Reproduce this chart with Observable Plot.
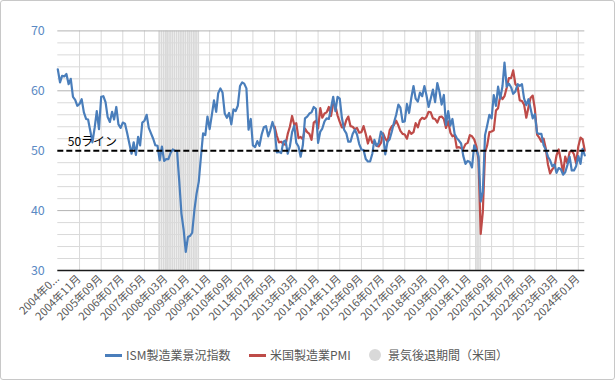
<!DOCTYPE html>
<html><head><meta charset="utf-8">
<script src="https://cdn.jsdelivr.net/npm/d3@7"></script>
<script src="https://cdn.jsdelivr.net/npm/@observablehq/plot@0.6"></script>
<style>
html,body{margin:0;padding:0;background:#fff;}
#frame{position:relative;width:613px;height:378px;border:1px solid #c8c8c8;border-radius:3px;overflow:hidden;font-family:"Noto Sans CJK JP","Noto Sans",sans-serif;background:#fff;}
#chart{position:absolute;left:0;top:0;}
.lg{position:absolute;font-size:12px;color:#595959;white-space:nowrap;line-height:14px;}
.ln{position:absolute;height:3px;}
.dot{position:absolute;width:12px;height:12px;border-radius:50%;background:#d9d9d9;}
</style></head>
<body>
<div id="frame">
  <div id="chart"></div>
  <div class="ln" style="left:104px;top:353px;width:17px;background:#4a7ebb;"></div>
  <div class="lg" style="left:125px;top:347px;">ISM製造業景況指数</div>
  <div class="ln" style="left:248px;top:353px;width:17px;background:#be4b48;"></div>
  <div class="lg" style="left:269px;top:347px;">米国製造業PMI</div>
  <div class="dot" style="left:368px;top:348px;"></div>
  <div class="lg" style="left:387px;top:347px;">景気後退期間（米国）</div>
</div>
<script>
// ISM製造業景況指数 2004-01 .. 2024-04 (monthly)
const ismStart = "2004-01";
const ism = [
63.6,61.4,62.5,62.4,62.8,61.1,62.0,59.0,58.5,57.5,57.8,58.6,
56.4,55.3,55.2,53.3,51.4,53.8,56.6,53.6,59.0,59.1,58.1,55.6,
54.8,56.5,55.2,57.3,54.4,53.8,54.7,54.5,52.9,51.2,49.5,51.4,
49.3,52.3,50.9,54.7,55.0,56.0,53.8,52.9,52.0,50.9,50.8,48.4,
50.7,48.3,48.6,48.6,49.6,50.2,50.0,49.9,44.8,39.5,36.8,33.1,
35.6,35.8,36.3,40.1,42.8,44.8,48.9,52.9,52.6,55.7,53.6,55.9,
58.4,56.5,59.6,60.4,59.7,56.2,55.5,56.3,54.4,56.9,56.6,57.5,
60.8,61.4,61.2,60.4,53.5,55.3,50.9,50.6,51.6,50.8,52.7,53.9,
54.1,52.4,53.4,54.8,53.5,49.7,49.8,49.6,51.5,51.7,49.5,50.7,
53.1,54.2,51.3,50.7,49.0,50.9,55.4,55.7,56.2,56.4,57.3,57.0,
51.3,53.2,53.7,54.9,55.4,55.3,57.1,59.0,56.6,59.0,58.7,55.5,
53.5,52.9,51.5,51.5,52.8,53.5,52.7,51.1,50.2,50.1,48.6,48.2,
48.2,49.5,51.8,50.8,51.3,53.2,52.6,49.4,51.5,51.9,53.2,54.7,
56.0,57.7,57.2,54.8,54.9,57.8,56.3,58.8,60.8,58.7,58.2,59.7,
59.1,60.8,59.3,57.3,58.7,60.2,58.1,61.3,59.8,57.7,59.3,54.3,
56.6,54.2,55.3,52.8,52.1,51.7,51.2,49.1,47.8,48.3,48.1,47.2,
50.9,50.1,49.1,41.5,43.1,52.6,54.2,56.0,55.4,59.3,57.5,60.7,
58.7,60.8,64.7,60.7,61.2,60.6,59.5,59.9,61.1,60.8,61.1,58.7,
57.6,58.6,57.1,55.4,56.1,53.0,52.8,52.8,50.9,50.2,49.0,48.4,
47.4,47.7,46.3,47.1,46.9,46.0,46.4,47.6,49.0,46.7,46.7,47.4,
49.1,47.8,50.3,49.2
];
// 米国製造業PMI 2012-05 .. 2024-04 (monthly)
const pmiStart = "2012-05";
const pmi = [
54.0,52.5,51.4,51.5,51.1,51.0,52.8,54.0,
55.8,54.3,54.6,52.1,52.3,51.9,53.7,53.1,52.8,51.8,54.7,55.0,
53.7,57.1,55.5,56.2,56.4,57.3,55.8,57.9,57.5,55.9,54.8,53.9,
53.9,55.1,55.7,54.1,54.0,53.6,53.8,53.0,53.1,54.1,52.8,51.2,
52.4,51.3,51.5,50.8,50.7,51.3,52.9,52.0,51.5,53.4,54.1,54.3,
55.0,54.2,53.3,52.8,52.7,52.0,53.3,52.8,53.1,54.6,53.9,55.1,
55.5,55.3,55.6,56.5,56.4,55.4,55.3,54.7,55.6,55.7,55.3,53.8,
54.9,53.0,52.4,52.6,50.5,50.6,50.4,50.3,51.1,51.3,52.6,52.4,
51.9,50.7,48.5,36.1,39.8,49.8,50.9,53.1,53.2,53.4,56.7,57.1,
59.2,58.6,59.1,60.5,62.1,62.1,63.4,61.1,60.7,58.4,58.3,57.7,
55.5,57.3,58.8,59.2,57.0,52.7,52.2,51.5,52.0,50.4,47.7,46.2,
46.9,47.3,49.2,50.2,48.4,46.3,49.0,47.9,49.8,50.0,49.4,47.9,
50.7,52.2,51.9,50.0
];
// 景気後退期間（米国）
const recessions = [["2007-12","2009-06"],["2020-02","2020-04"]];
// x axis ticks
const tickMonths = ["2004-01","2004-11","2005-09","2006-07","2007-05","2008-03","2009-01","2009-11","2010-09","2011-07","2012-05","2013-03","2014-01","2014-11","2015-09","2016-07","2017-05","2018-03","2019-01","2019-11","2020-09","2021-07","2022-05","2023-03","2024-01"];
const tickLabels = ["2004年0...","2004年11月","2005年09月","2006年07月","2007年05月","2008年03月","2009年01月","2009年11月","2010年09月","2011年07月","2012年05月","2013年03月","2014年01月","2014年11月","2015年09月","2016年07月","2017年05月","2018年03月","2019年01月","2019年11月","2020年09月","2021年07月","2022年05月","2023年03月","2024年01月"];
const yTicks = [30,40,50,60,70];
const refValue = 50;
const refLabel = "50ライン";

const pm = s => { const [y,m] = s.split("-").map(Number); return new Date(Date.UTC(y, m-1, 1)); };
const ismData = ism.map((v,i)=>({date: d3.utcMonth.offset(pm(ismStart), i), value: v}));
const pmiData = pmi.map((v,i)=>({date: d3.utcMonth.offset(pm(pmiStart), i), value: v}));
const recMonths = recessions.flatMap(([a,b]) => d3.utcMonth.range(pm(a), d3.utcMonth.offset(pm(b),1)));
const ticks = tickMonths.map(pm);
const xDomain = [ismData[0].date, ismData[ismData.length-1].date];
const minor = d3.range(30, 71, 2).filter(v => v % 10 !== 0);

const chart = Plot.plot({
  width: 613, height: 334,
  marginLeft: 56.3, marginRight: 29.7, marginTop: 29.4, marginBottom: 65,
  style: {fontFamily: '"Noto Sans CJK JP","Noto Sans",sans-serif', background: "transparent"},
  x: {type: "utc", domain: xDomain, axis: null},
  y: {domain: [30, 70], axis: null},
  marks: [
    Plot.rect(recMonths, {x1: d => d3.utcDay.offset(d, -15), x2: d => d3.utcDay.offset(d, 15), y1: 30, y2: 70, fill: "#d9d9d9", inset: 0.2}),
    Plot.ruleY(minor, {stroke: "#d9d9d9", strokeWidth: 1}),
    Plot.ruleX(ticks.slice(1), {y1: 30, y2: 70, stroke: "#d9d9d9", strokeWidth: 1}),
    Plot.ruleY([40, 60, 70], {stroke: "#b3b3b3", strokeWidth: 1}),
    Plot.line(pmiData, {x: "date", y: "value", stroke: "#be4b48", strokeWidth: 2.2}),
    Plot.line(ismData, {x: "date", y: "value", stroke: "#4a7ebb", strokeWidth: 2.2}),
    Plot.ruleY([refValue], {stroke: "#000", strokeWidth: 2, strokeDasharray: "6,3"}),
    Plot.text([refLabel], {x: xDomain[0], y: refValue, text: d => d, dx: 10, dy: -9, textAnchor: "start", fontSize: 12, fill: "#000"}),
    Plot.ruleY([30], {stroke: "#1a1a1a", strokeWidth: 1.5}),
    Plot.text(yTicks, {x: xDomain[0], y: d => d, text: d => String(d), dx: -13, textAnchor: "end", fontSize: 12.5, fill: "#5b8ac4"}),
    Plot.text(ticks, {x: d => d, frameAnchor: "bottom", text: (d,i) => tickLabels[i], rotate: -45, textAnchor: "end", dx: 2, dy: 9, fontSize: 11, fill: "#595959"})
  ]
});
document.getElementById("chart").appendChild(chart);
</script>
</body></html>
